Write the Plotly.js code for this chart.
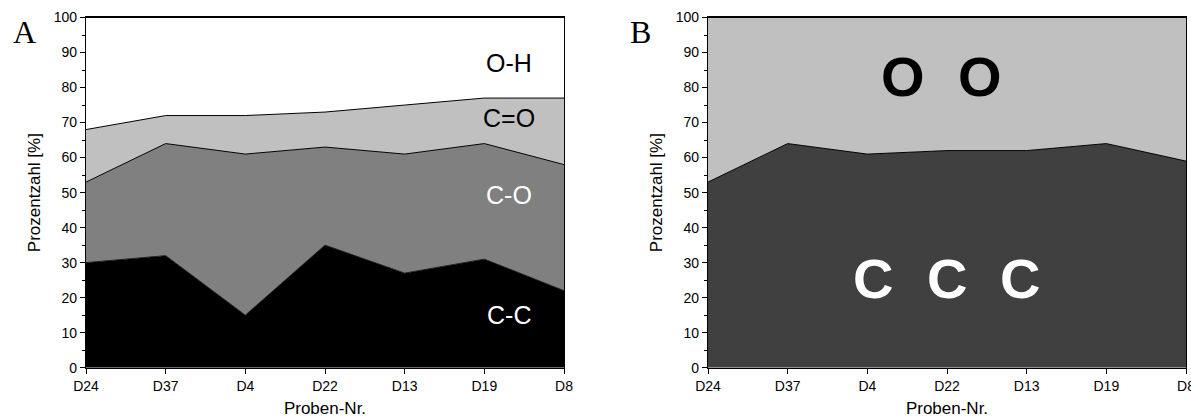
<!DOCTYPE html>
<html><head><meta charset="utf-8">
<script src="https://cdn.plot.ly/plotly-3.0.1.min.js"></script>
<style>html,body{margin:0;padding:0;background:#fff}#c{width:1191px;height:418px}</style>
</head><body><div id="c"></div>
<script>
const samples = ["D24","D37","D4","D22","D13","D19","D8"];
// Panel A: layer shares (stacked)
const aCC = [30,32,15,35,27,31,22];
const aCO = [23,32,46,28,34,33,36];
const aCdO = [15,8,11,10,14,13,19];
const aOH = [32,28,28,27,25,23,23];
// Panel B
const bC = [53,64,61,62,62,64,59];
const bO = [47,36,39,38,38,36,41];

const W=1191,H=418;
const px=(x)=>x/W, py=(y)=>1-y/H;
const FONT="Liberation Sans";
const SERIF="Liberation Serif";

function area(y,color,xa,ya,grp,lw){
  return {x:samples,y:y,type:'scatter',mode:'lines',stackgroup:grp,
    fillcolor:color,line:{color:'#000',width:lw},xaxis:xa,yaxis:ya,hoverinfo:'skip',showlegend:false};
}
const data=[
  area(aCC,'#000000','x','y','a',0.8),
  area(aCO,'#808080','x','y','a',1),
  area(aCdO,'#c0c0c0','x','y','a',1),
  area(aOH,'#ffffff','x','y','a',0),
  area(bC,'#404040','x2','y2','b',1),
  area(bO,'#c0c0c0','x2','y2','b',0)
];
function xax(d){return {domain:d,type:'category',range:[0,6],showline:true,linecolor:'#000',linewidth:1.2,mirror:true,
  ticks:'outside',ticklen:5,tickcolor:'#000',showgrid:false,zeroline:false,
  tickfont:{family:FONT,size:14,color:'#000'},
  title:{text:'Proben-Nr.',font:{family:FONT,size:17,color:'#000'},standoff:11}};}
function yax(anchor){return {domain:[py(367.7),py(17.5)],range:[0,100],anchor:anchor,showline:true,linecolor:'#000',linewidth:1.2,mirror:true,
  ticks:'outside',ticklen:5,tickcolor:'#000',dtick:10,showgrid:false,zeroline:false,
  minor:{dtick:5,ticks:'outside',ticklen:3,tickcolor:'#000',showgrid:false},
  tickfont:{family:FONT,size:14,color:'#000'},
  title:{text:'Prozentzahl [%]',font:{family:FONT,size:17,color:'#000'},standoff:8}};}
function ann(text,x,y,size,color,fam){
  return {text:text,x:px(x),y:py(y),xref:'paper',yref:'paper',xanchor:'center',yanchor:'middle',showarrow:false,
    font:{family:fam||FONT,size:size,color:color}};
}
const layout={
  width:W,height:H,margin:{l:0,r:0,t:0,b:0},paper_bgcolor:'#fff',plot_bgcolor:'#fff',showlegend:false,
  xaxis:Object.assign(xax([px(86),px(564)]),{anchor:'y'}),
  yaxis:yax('x'),
  xaxis2:Object.assign(xax([px(708),px(1186)]),{anchor:'y2'}),
  yaxis2:yax('x2'),
  annotations:[
    ann('A',24,32,32,'#000',SERIF),
    ann('B',640,32,32,'#000',SERIF),
    ann('O-H',509,63,25,'#000'),
    ann('C=O',509,118,25,'#000'),
    ann('C-O',509,195,25,'#fff'),
    ann('C-C',509,315,25,'#fff'),
    ann('<b>O</b>',903,76,56,'#000'),
    ann('<b>O</b>',980,76,56,'#000'),
    ann('<b>C</b>',873,278,56,'#fff'),
    ann('<b>C</b>',947,278,56,'#fff'),
    ann('<b>C</b>',1020,278,56,'#fff')
  ]
};
Plotly.newPlot('c',data,layout,{staticPlot:true});
</script></body></html>
